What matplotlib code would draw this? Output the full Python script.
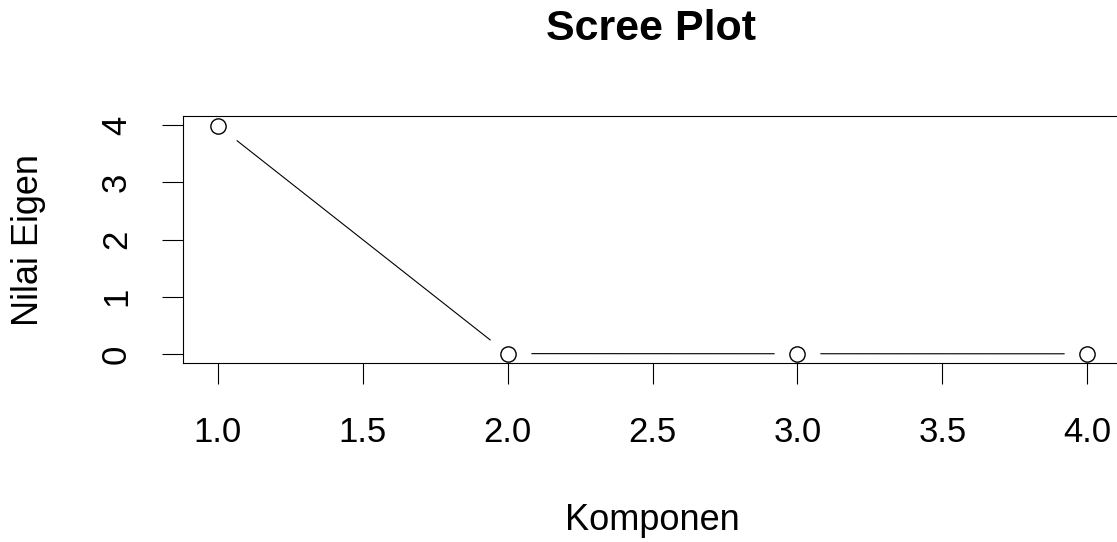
import numpy as np
import matplotlib.pyplot as plt

plt.rcParams['font.family'] = ['Liberation Sans', 'DejaVu Sans']

komponen = [1, 2, 3, 4]
nilai_eigen = [3.993, 0.004, 0.002, 0.001]
xticks = [1.0, 1.5, 2.0, 2.5, 3.0, 3.5, 4.0]
yticks = [0, 1, 2, 3, 4]

fig = plt.figure(figsize=(11.17, 5.42), dpi=100)
ax = fig.add_axes([183/1117, 179/542, 939/1117, 247/542])

# type="b": line with gaps around the points
ax.plot(komponen, nilai_eigen, color='black', lw=0.8, zorder=2)
ax.plot(komponen, nilai_eigen, 'o', ms=32, mfc='white', mec='white', zorder=2.1)
ax.plot(komponen, nilai_eigen, 'o', ms=11, mfc='white', mec='black', mew=1.0, zorder=3)

ax.set_xlim(0.88, 4.12)
ax.set_ylim(-0.16, 4.16)
ax.set_xticks(xticks)
ax.set_xticklabels([f'{v:.1f}' for v in xticks])
ax.set_yticks(yticks)
ax.set_yticklabels([str(v) for v in yticks], rotation=90, va='center')
ax.tick_params(length=15, width=0.8, labelsize=25, pad=23)
ax.tick_params(axis='y', pad=21)
for s in ax.spines.values():
    s.set_linewidth(0.8)

ax.set_xlabel('Komponen', fontsize=26, va='center')
ax.xaxis.set_label_coords((652 - 183) / 939, (363 - 521) / 247)
ax.set_ylabel('Nilai Eigen', fontsize=26, va='center')
ax.yaxis.set_label_coords((28 - 183) / 939, 0.5)
fig.text(651/1117, 1 - 29/542, 'Scree Plot', ha='center', va='center',
         fontsize=31, fontweight='bold')

fig.savefig('out.png', dpi=100)
